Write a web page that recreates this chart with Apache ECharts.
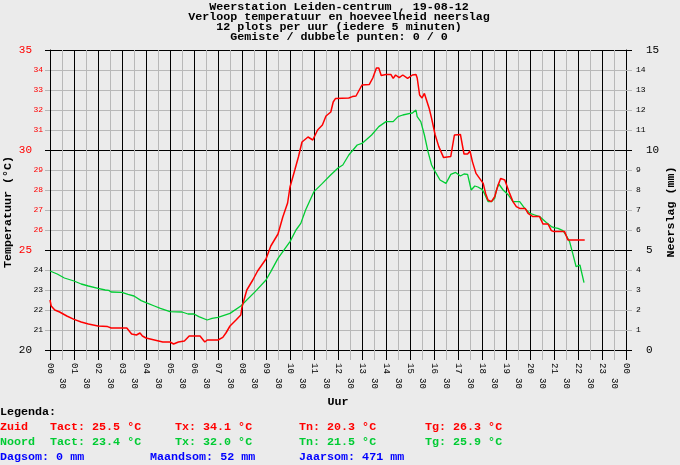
<!DOCTYPE html>
<html>
<head>
<meta charset="utf-8">
<script src="https://cdn.jsdelivr.net/npm/echarts@6/dist/echarts.min.js"></script>
<style>
  html, body { margin: 0; padding: 0; background: #ebebeb; }
  #chart { width: 680px; height: 465px; }
</style>
</head>
<body>
<div id="chart"></div>
<script>
'use strict';

// titelregels
var titleLines = [
    'Weerstation Leiden-centrum , 19-08-12',
    'Verloop temperatuur en hoeveelheid neerslag',
    '12 plots per uur (iedere 5 minuten)',
    'Gemiste / dubbele punten: 0 / 0'
];

// Zuid (rood): tijd in uren, temperatuur in graden
var zuidHours = [0, 0.05, 0.2, 0.4, 0.7, 1.0, 1.3, 1.6, 2.0, 2.4, 2.55, 3.2, 3.4, 3.6, 3.75, 3.85,
    4.0, 4.35, 4.7, 5.0, 5.15, 5.35, 5.6, 5.8, 6.0, 6.25, 6.45, 6.55, 7.0, 7.2, 7.33, 7.5,
    7.75, 7.95, 8.0, 8.2, 8.45, 8.65, 9.0, 9.2, 9.5, 9.7, 9.9, 10.0, 10.2, 10.35, 10.5,
    10.75, 10.95, 11.15, 11.35, 11.5, 11.7, 11.8, 11.9, 12.45, 12.6, 12.75, 13.0, 13.3,
    13.45, 13.6, 13.7, 13.8, 14.0, 14.2, 14.3, 14.4, 14.55, 14.7, 14.9, 15.1, 15.25, 15.3,
    15.4, 15.5, 15.6, 15.8, 15.9, 16.05, 16.2, 16.4, 16.55, 16.7, 16.85, 17.1, 17.25, 17.4,
    17.5, 17.6, 17.75, 17.9, 18.05, 18.15, 18.25, 18.39, 18.53, 18.67, 18.78, 18.95, 19.15,
    19.29, 19.43, 19.57, 19.8, 19.92, 20.12, 20.4, 20.54, 20.75, 20.89, 21.0, 21.44, 21.58, 22.28];
var zuidTemps = [22.5, 22.2, 22.0, 21.9, 21.7, 21.53, 21.4, 21.3, 21.2, 21.17, 21.1, 21.1, 20.8, 20.75, 20.85, 20.7,
    20.6, 20.5, 20.4, 20.4, 20.3, 20.4, 20.45, 20.7, 20.7, 20.7, 20.4, 20.5, 20.5, 20.63, 20.85, 21.2,
    21.5, 21.75, 22.15, 23.0, 23.5, 23.95, 24.55, 25.2, 25.8, 26.65, 27.35, 28.15, 29.0, 29.65, 30.4,
    30.65, 30.5, 31.0, 31.25, 31.7, 31.9, 32.4, 32.58, 32.6, 32.67, 32.7, 33.25, 33.27,
    33.6, 34.1, 34.1, 33.72, 33.78, 33.78, 33.58, 33.75, 33.62, 33.75, 33.58, 33.75, 33.78, 33.6,
    32.75, 32.6, 32.83, 32.08, 31.58, 30.75, 30.17, 29.62, 29.65, 29.68, 30.75, 30.78, 29.8, 29.8,
    29.95, 29.42, 28.83, 28.58, 28.33, 27.83, 27.5, 27.42, 27.67, 28.25, 28.58, 28.5, 27.83,
    27.42, 27.17, 27.08, 27.08, 26.83, 26.67, 26.67, 26.3, 26.3, 25.97, 25.92, 25.92, 25.5, 25.5];

// Noord (groen)
var noordHours = [0, 0.3, 0.6, 1.0, 1.3, 1.6, 2.0, 2.3, 2.38, 2.45, 2.55, 3.0, 3.25, 3.5, 3.8, 4.0,
    4.35, 4.6, 5.0, 5.5, 5.75, 6.0, 6.2, 6.55, 6.75, 7.0, 7.5, 7.95, 8.55, 9.0, 9.2, 9.5, 9.85,
    10.0, 10.25, 10.45, 10.65, 11.0, 11.35, 11.65, 12.0, 12.2, 12.45, 12.8, 13.0, 13.4, 13.7,
    14.0, 14.3, 14.5, 14.7, 15.0, 15.1, 15.25, 15.3, 15.45, 15.6, 15.75, 15.9, 16.05, 16.25,
    16.5, 16.7, 16.9, 17.1, 17.25, 17.4, 17.55, 17.7, 17.83, 18.0, 18.1, 18.25, 18.4, 18.53,
    18.6, 18.7, 18.88, 19.1, 19.29, 19.57, 19.78, 20.0, 20.2, 20.4, 20.68, 20.89, 21.0, 21.17,
    21.37, 21.5, 21.65, 21.78, 21.92, 22.0, 22.08, 22.25];
var noordTemps = [23.95, 23.8, 23.6, 23.45, 23.3, 23.2, 23.08, 23.0, 23.1, 22.98, 22.9, 22.88, 22.78, 22.7, 22.47, 22.37,
    22.2, 22.08, 21.92, 21.9, 21.8, 21.8, 21.67, 21.5, 21.58, 21.63, 21.83, 22.2, 22.92, 23.5, 23.92, 24.58, 25.17,
    25.42, 26.0, 26.33, 27.0, 27.92, 28.33, 28.7, 29.1, 29.25, 29.75, 30.25, 30.33, 30.75, 31.17,
    31.42, 31.42, 31.67, 31.75, 31.83, 31.85, 32.0, 31.67, 31.42, 30.75, 29.92, 29.25, 28.92, 28.5,
    28.33, 28.78, 28.88, 28.7, 28.8, 28.78, 28.0, 28.2, 28.15, 28.03, 27.83, 27.42, 27.42, 27.58,
    28.0, 28.3, 28.0, 27.75, 27.42, 27.42, 27.08, 26.83, 26.75, 26.67, 26.38, 26.17, 26.12, 26.08,
    25.97, 25.75, 25.42, 24.83, 24.17, 24.08, 24.25, 23.37];

// legenda
var legendZuid = ['Tact: 25.5 °C', 'Tx: 34.1 °C', 'Tn: 20.3 °C', 'Tg: 26.3 °C'];
var legendNoord = ['Tact: 23.4 °C', 'Tx: 32.0 °C', 'Tn: 21.5 °C', 'Tg: 25.9 °C'];
var legendSom = ['Dagsom: 0 mm', 'Maandsom: 52 mm', 'Jaarsom: 471 mm'];

var RED = '#ff0000';
var GREEN = '#00cc33';
var BLUE = '#0000ff';
var GRID = '#b8b8b8';
var MONO = '"Liberation Mono", "DejaVu Sans Mono", monospace';
var BOLD = 'bold 11.7px ' + MONO;

function zip(xs, ys) {
    return xs.map(function (x, i) { return [x, ys[i]]; });
}

function pad2(n) {
    n = n % 24;
    return (n < 10 ? '0' : '') + n;
}

var graphics = [];
function addText(text, x, y, color, align, rotation) {
    graphics.push({
        type: 'text', x: x, y: y, rotation: rotation || 0,
        style: { text: text, fill: color, font: BOLD, textAlign: align || 'left', textVerticalAlign: 'middle' }
    });
}

titleLines.forEach(function (t, i) { addText(t, 339, 7 + i * 10, '#000', 'center'); });

// asnamen
addText('Temperatuur (°C)', 8, 212, '#000', 'center', Math.PI / 2);
addText('Neerslag (mm)', 671, 212, '#000', 'center', Math.PI / 2);

addText('Legenda:', 0, 412, '#000');
addText('Zuid', 0, 427, RED);
addText('Noord', 0, 442, GREEN);
var legendX = [50, 175, 299, 425];
legendZuid.forEach(function (t, i) { addText(t, legendX[i], 427, RED); });
legendNoord.forEach(function (t, i) { addText(t, legendX[i], 442, GREEN); });
[0, 150, 299].forEach(function (x, i) { addText(legendSom[i], x, 457, BLUE); });

var chart = echarts.init(document.getElementById('chart'));

var tempColor = function (v) { return Number(v) >= 25 ? RED : '#000'; };

chart.setOption({
    backgroundColor: '#ebebeb',
    animation: false,
    grid: { left: 50, right: 54, top: 50, bottom: 115 },
    graphic: graphics,
    xAxis: [{
        // halve uren: grijze lijnen en '30'
        type: 'value', min: 0, max: 24, interval: 0.5,
        axisLine: { show: true, lineStyle: { color: '#000', width: 1 } },
        axisTick: { show: true, length: 10, lineStyle: { color: GRID } },
        splitLine: { show: true, lineStyle: { color: ['#000', GRID], width: 1 } },
        axisLabel: {
            rotate: -90, margin: 28, fontFamily: MONO, fontSize: 9, color: '#000',
            formatter: function (v) { return v % 1 ? '30' : ''; }
        }
    }, {
        // hele uren
        type: 'value', min: 0, max: 24, interval: 1, position: 'bottom',
        name: 'Uur', nameLocation: 'middle', nameGap: 46,
        nameTextStyle: { fontFamily: MONO, fontWeight: 'bold', fontSize: 11.7, color: '#000' },
        axisLine: { show: true, lineStyle: { color: '#000' } },
        axisTick: { show: true, length: 10, lineStyle: { color: '#000' } },
        splitLine: { show: false },
        axisLabel: {
            rotate: -90, margin: 13, fontFamily: MONO, fontSize: 9, color: '#000',
            formatter: function (v) { return pad2(v); }
        }
    }],
    yAxis: [{
        type: 'value', min: 20, max: 35, interval: 1, position: 'left',
        axisLine: { show: true, lineStyle: { color: '#000' } },
        axisTick: { show: true, length: 5, lineStyle: { color: GRID } },
        splitLine: { show: true, lineStyle: { color: ['#000', GRID, GRID, GRID, GRID] } },
        axisLabel: {
            margin: 7, fontFamily: MONO, fontSize: 8, color: tempColor,
            formatter: function (v) { return v % 5 ? v : ''; }
        }
    }, {
        type: 'value', min: 20, max: 35, interval: 5, position: 'left',
        axisLine: { show: false },
        axisTick: { show: true, length: 5, lineStyle: { color: '#000' } },
        splitLine: { show: false },
        axisLabel: { margin: 18, fontFamily: MONO, fontSize: 11, color: tempColor }
    }, {
        type: 'value', min: 0, max: 15, interval: 1, position: 'right',
        axisLine: { show: true, lineStyle: { color: '#000' } },
        axisTick: { show: true, length: 6, lineStyle: { color: GRID } },
        splitLine: { show: false },
        axisLabel: {
            margin: 10, fontFamily: MONO, fontSize: 8, color: '#000',
            formatter: function (v) { return v % 5 ? v : ''; }
        }
    }, {
        type: 'value', min: 0, max: 15, interval: 5, position: 'right',
        axisLine: { show: false },
        axisTick: { show: true, length: 6, lineStyle: { color: '#000' } },
        splitLine: { show: false },
        axisLabel: { margin: 20, fontFamily: MONO, fontSize: 11, color: '#000' }
    }],
    series: [{
        name: 'Noord', type: 'line', xAxisIndex: 1, yAxisIndex: 0,
        data: zip(noordHours, noordTemps), showSymbol: false,
        lineStyle: { color: GREEN, width: 1.3 }, z: 3
    }, {
        name: 'Zuid', type: 'line', xAxisIndex: 1, yAxisIndex: 0,
        data: zip(zuidHours, zuidTemps), showSymbol: false,
        lineStyle: { color: RED, width: 1.5 }, z: 4
    }]
});
</script>
</body>
</html>
